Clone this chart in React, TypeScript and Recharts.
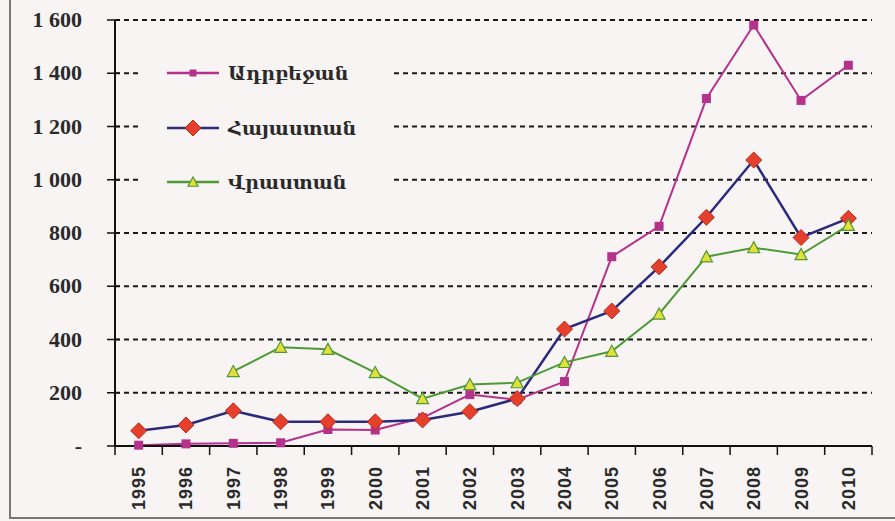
import React from "react";
import { LineChart, Line, XAxis, YAxis, CartesianGrid, Legend } from "recharts";

const years = ["1995", "1996", "1997", "1998", "1999", "2000", "2001", "2002", "2003", "2004", "2005", "2006", "2007", "2008", "2009", "2010"];
const azerbaijan = [3, 8, 10, 12, 62, 60, 106, 193, 174, 242, 711, 825, 1305, 1581, 1298, 1430];
const armenia = [57, 79, 132, 91, 91, 91, 98, 129, 178, 439, 507, 673, 859, 1074, 783, 855];
const georgia = [null, null, 280, 371, 363, 276, 178, 231, 238, 314, 356, 496, 711, 745, 719, 829];
const yTicks = [0, 200, 400, 600, 800, 1000, 1200, 1400, 1600];
const yTickLabels = ["-", "200", "400", "600", "800", "1 000", "1 200", "1 400", "1 600"];

const seriesNames = ["Ադրբեջան", "Հայաստան", "Վրաստան"];

const PINK = "#b5328c";
const BLUE = "#2c2a7e";
const RED = "#e5402c";
const GREEN = "#4e9a36";
const YELLOW = "#e4df3a";
const BG = "#f7f4f3";

const W = 895;
const H = 521;
const M = { top: 20, right: 23, bottom: 0, left: 0 };
const Y_W = 115;
const X_H = 75;
const STEP = (W - M.right - Y_W) / years.length;

const data = years.map((y, i) => ({
  year: y,
  aze: azerbaijan[i],
  arm: armenia[i],
  geo: georgia[i],
}));

function Square(props: any) {
  const { cx, cy, s = 9 } = props;
  if (cx == null || cy == null) return null;
  return <rect x={cx - s / 2} y={cy - s / 2} width={s} height={s} fill={PINK} />;
}

function Diamond(props: any) {
  const { cx, cy } = props;
  if (cx == null || cy == null) return null;
  const r = 8;
  return (
    <polygon
      points={`${cx},${cy - r} ${cx + r},${cy} ${cx},${cy + r} ${cx - r},${cy}`}
      fill={RED}
      stroke="#b82a1c"
      strokeWidth={1}
    />
  );
}

function Triangle(props: any) {
  const { cx, cy, s = 6 } = props;
  if (cx == null || cy == null) return null;
  return (
    <polygon
      points={`${cx},${cy - s} ${cx + s},${cy + s * 0.85} ${cx - s},${cy + s * 0.85}`}
      fill={YELLOW}
      stroke={GREEN}
      strokeWidth={1.2}
    />
  );
}

function YTick(props: any) {
  const { x, y, payload } = props;
  const i = yTicks.indexOf(payload.value);
  return (
    <g>
      <line x1={x - 8} x2={x + 5} y1={y} y2={y} stroke="#111" strokeWidth={1.5} />
      <text
        x={x - 33}
        y={y}
        dy={7}
        textAnchor="end"
        fontFamily="'Liberation Serif', serif"
        fontWeight="bold"
        fontSize={22}
        fill="#2a2a2a"
      >
        {yTickLabels[i]}
      </text>
    </g>
  );
}

function XTick(props: any) {
  const { x, y, payload, index } = props;
  const half = STEP / 2;
  return (
    <g>
      <line x1={x - half} x2={x - half} y1={y} y2={y + 9} stroke="#111" strokeWidth={1.5} />
      {index === years.length - 1 && (
        <line x1={x + half} x2={x + half} y1={y} y2={y + 9} stroke="#111" strokeWidth={1.5} />
      )}
      <text
        transform={`translate(${x + 6.5},${y + 20}) rotate(-90)`}
        textAnchor="end"
        fontFamily="'Liberation Sans', sans-serif"
        fontWeight="bold"
        fontSize={18}
        letterSpacing={1}
        fill="#2a2a2a"
      >
        {payload.value}
      </text>
    </g>
  );
}

function LegendBox() {
  const colors = [PINK, BLUE, GREEN];
  const rows = [23, 78, 132];
  return (
    <svg width={250} height={155} style={{ display: "block" }}>
      <rect x={0} y={0} width={250} height={155} fill={BG} />
      {seriesNames.map((name, i) => (
        <g key={name}>
          <line x1={27} x2={79} y1={rows[i]} y2={rows[i]} stroke={colors[i]} strokeWidth={2.5} />
          {i === 0 && <Square cx={53} cy={rows[i]} s={7} />}
          {i === 1 && <Diamond cx={53} cy={rows[i]} />}
          {i === 2 && <Triangle cx={53} cy={rows[i]} s={5} />}
          <text
            x={88}
            y={rows[i]}
            dy={7}
            fontFamily="'DejaVu Serif', serif"
            fontWeight="bold"
            fontSize={19}
            fill="#2a2a2a"
          >
            {name}
          </text>
        </g>
      ))}
    </svg>
  );
}

export default function App() {
  return (
    <div style={{ position: "fixed", left: 0, top: 0, width: W, height: H, background: BG }}>
      <div
        style={{
          position: "absolute",
          left: 9,
          top: 0,
          width: W,
          height: 517,
          borderLeft: "2px solid #777",
          borderBottom: "2px solid #777",
        }}
      />
      <LineChart width={W} height={H} data={data} margin={M}>
        <CartesianGrid
          vertical={false}
          stroke="#1a1a1a"
          strokeDasharray="5 4"
          strokeWidth={2}
        />
        <XAxis
          dataKey="year"
          interval={0}
          height={X_H}
          padding={{ left: STEP / 2, right: STEP / 2 }}
          axisLine={{ stroke: "#111", strokeWidth: 2 }}
          tickLine={false}
          tickSize={0}
          tickMargin={0}
          tick={<XTick />}
        />
        <XAxis xAxisId="top" orientation="top" dataKey="year" height={0} tick={false} tickLine={false} axisLine={{ stroke: "#444", strokeWidth: 1.5 }} />
        <YAxis
          domain={[0, 1600]}
          ticks={yTicks}
          width={Y_W}
          interval={0}
          axisLine={{ stroke: "#111", strokeWidth: 2 }}
          tickLine={false}
          tickSize={0}
          tickMargin={0}
          tick={<YTick />}
        />
        <YAxis yAxisId="right" orientation="right" domain={[0, 1600]} width={0} tick={false} tickLine={false} axisLine={{ stroke: "#777", strokeWidth: 1.5 }} />
        <Legend
          layout="vertical"
          align="center"
          verticalAlign="middle"
          wrapperStyle={{ left: 140, top: 50, width: 250, height: 155 }}
          content={() => <LegendBox />}
        />
        <Line dataKey="aze" name={seriesNames[0]} stroke={PINK} strokeWidth={2} dot={<Square />} activeDot={false} isAnimationActive={false} />
        <Line dataKey="arm" name={seriesNames[1]} stroke={BLUE} strokeWidth={2.5} dot={<Diamond />} activeDot={false} isAnimationActive={false} />
        <Line dataKey="geo" name={seriesNames[2]} stroke={GREEN} strokeWidth={2} dot={<Triangle />} activeDot={false} isAnimationActive={false} />
      </LineChart>
    </div>
  );
}
